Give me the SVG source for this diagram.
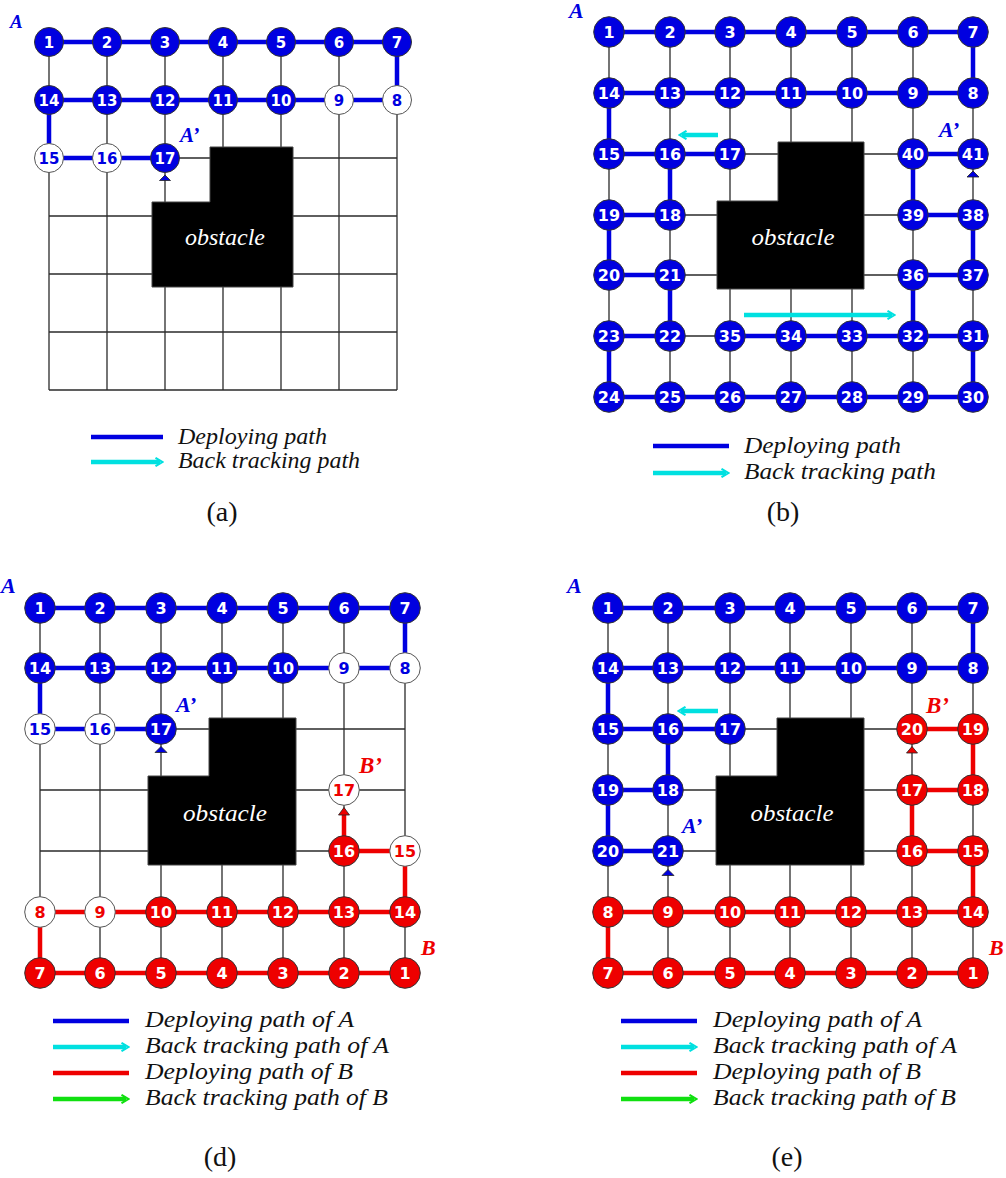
<svg xmlns="http://www.w3.org/2000/svg" width="1006" height="1178" viewBox="0 0 1006 1178">
<style>
.grid{fill:none;stroke:#2b2b2b;stroke-width:1.3}
.obs{fill:#000;stroke:#444;stroke-width:1}
.otx{fill:#fff;font-family:"Liberation Serif",serif;font-style:italic;font-size:24px;text-anchor:middle}
.pb{fill:none;stroke:#0000e0;stroke-width:4.5}
.pr{fill:none;stroke:#ee0000;stroke-width:4.5}
.pc{fill:none;stroke:#00e0e0;stroke-width:4.5}
.pg{fill:none;stroke:#10e010;stroke-width:4.5}
.tb{fill:#0000e0;stroke:#222;stroke-width:0.8}
.tr{fill:#ee0000;stroke:#222;stroke-width:0.8}
.n text{font-family:"DejaVu Sans",Verdana,sans-serif;font-weight:bold;font-size:16px;text-anchor:middle}
.pa .n text{font-size:15px}
.nb circle{fill:#0000e0;stroke:#333;stroke-width:1}
.nb text{fill:#fff}
.wb circle{fill:#fff;stroke:#555;stroke-width:1}
.wb text{fill:#0000e0}
.nr circle{fill:#ee0000;stroke:#333;stroke-width:1}
.nr text{fill:#fff}
.wr circle{fill:#fff;stroke:#555;stroke-width:1}
.wr text{fill:#ee0000}
.lbl{font-family:"Liberation Serif",serif;font-weight:bold;font-style:italic;font-size:22px}
.lb{fill:#0000e0}
.lr{fill:#ee0000}
.leg{font-family:"Liberation Serif",serif;font-style:italic;font-size:24px;fill:#111}
.cap{font-family:"Liberation Serif",serif;font-size:28px;fill:#111;text-anchor:middle}
</style>
<defs>
<marker id="hc" viewBox="0 0 10 10" refX="6" refY="5" markerWidth="10" markerHeight="10" markerUnits="userSpaceOnUse" orient="auto"><path d="M1.5,0.8 L8.5,5 L1.5,9.2" fill="none" stroke="#00e0e0" stroke-width="2"/></marker>
<marker id="hg" viewBox="0 0 10 10" refX="6" refY="5" markerWidth="10" markerHeight="10" markerUnits="userSpaceOnUse" orient="auto"><path d="M1.5,0.8 L8.5,5 L1.5,9.2" fill="none" stroke="#10e010" stroke-width="2"/></marker>
</defs>
<rect width="1006" height="1178" fill="#fff"/>

<!-- ============ Panel (a) ============ -->
<g id="panel-a" class="pa">
<g id="a-connectors">
<path class="grid" d="M49,42V390M107,42V390M165,42V390M223,42V390M281,42V390M339,42V390M397,42V390M49,42H397M49,100H397M49,158H397M49,216H397M49,274H397M49,332H397M49,390H397"/>
<path id="a-obstacle" class="obs" d="M210,147H293V287H152V202H210Z"/>
<text class="otx" x="225" y="245" textLength="80" lengthAdjust="spacingAndGlyphs">obstacle</text>
<path class="pb" d="M49,42H397V100H49V158H165"/>
<polygon class="tb" points="165,175 159.5,180.5 170.5,180.5"/>
</g>
<g id="a-nodes">
<g id="a-n1" class="n nb"><circle cx="49" cy="42" r="14.5"/><text x="49" y="47.5">1</text></g>
<g id="a-n2" class="n nb"><circle cx="107" cy="42" r="14.5"/><text x="107" y="47.5">2</text></g>
<g id="a-n3" class="n nb"><circle cx="165" cy="42" r="14.5"/><text x="165" y="47.5">3</text></g>
<g id="a-n4" class="n nb"><circle cx="223" cy="42" r="14.5"/><text x="223" y="47.5">4</text></g>
<g id="a-n5" class="n nb"><circle cx="281" cy="42" r="14.5"/><text x="281" y="47.5">5</text></g>
<g id="a-n6" class="n nb"><circle cx="339" cy="42" r="14.5"/><text x="339" y="47.5">6</text></g>
<g id="a-n7" class="n nb"><circle cx="397" cy="42" r="14.5"/><text x="397" y="47.5">7</text></g>
<g id="a-n14" class="n nb"><circle cx="49" cy="100" r="14.5"/><text x="49" y="105.5">14</text></g>
<g id="a-n13" class="n nb"><circle cx="107" cy="100" r="14.5"/><text x="107" y="105.5">13</text></g>
<g id="a-n12" class="n nb"><circle cx="165" cy="100" r="14.5"/><text x="165" y="105.5">12</text></g>
<g id="a-n11" class="n nb"><circle cx="223" cy="100" r="14.5"/><text x="223" y="105.5">11</text></g>
<g id="a-n10" class="n nb"><circle cx="281" cy="100" r="14.5"/><text x="281" y="105.5">10</text></g>
<g id="a-n9" class="n wb"><circle cx="339" cy="100" r="14.5"/><text x="339" y="105.5">9</text></g>
<g id="a-n8" class="n wb"><circle cx="397" cy="100" r="14.5"/><text x="397" y="105.5">8</text></g>
<g id="a-n15" class="n wb"><circle cx="49" cy="158" r="14.5"/><text x="49" y="163.5">15</text></g>
<g id="a-n16" class="n wb"><circle cx="107" cy="158" r="14.5"/><text x="107" y="163.5">16</text></g>
<g id="a-n17" class="n nb"><circle cx="165" cy="158" r="14.5"/><text x="165" y="163.5">17</text></g>
</g>
<text class="lbl lb" x="10" y="28" style="font-size:19px">A</text>
<text class="lbl lb" x="180" y="142" style="font-size:21px">A’</text>
<g id="a-legend">
<line class="pb" x1="91" y1="437" x2="163" y2="437"/>
<line class="pc" x1="91" y1="462" x2="160" y2="462" marker-end="url(#hc)"/>
<text class="leg" x="178" y="444" textLength="149" lengthAdjust="spacingAndGlyphs">Deploying path</text>
<text class="leg" x="178" y="468" textLength="182" lengthAdjust="spacingAndGlyphs">Back tracking path</text>
</g>
<text class="cap" x="222" y="521">(a)</text>
</g>

<!-- ============ Panel (b) ============ -->
<g id="panel-b">
<g id="b-connectors">
<path class="grid" d="M609,32V397M670,32V397M730,32V397M791,32V397M852,32V397M913,32V397M973,32V397M609,32H973M609,93H973M609,154H973M609,215H973M609,275H973M609,336H973M609,397H973"/>
<path id="b-obstacle" class="obs" d="M778,142H864V289H717V201H778Z"/>
<text class="otx" x="793" y="245" textLength="83" lengthAdjust="spacingAndGlyphs">obstacle</text>
<path class="pb" d="M609,32H973V93H609V154H730M670,154V215H609V275H670V336H609V397H973V336H730M913,336V275H973V215H913V154H973"/>
<polygon class="tb" points="973,171 967,177 979,177"/>
<line class="pc" x1="718" y1="135" x2="682" y2="135" marker-end="url(#hc)"/>
<line class="pc" x1="744" y1="315" x2="892" y2="315" marker-end="url(#hc)"/>
</g>
<g id="b-nodes">
<g id="b-n1" class="n nb"><circle cx="609" cy="32" r="15.3"/><text x="609" y="37.8">1</text></g>
<g id="b-n2" class="n nb"><circle cx="670" cy="32" r="15.3"/><text x="670" y="37.8">2</text></g>
<g id="b-n3" class="n nb"><circle cx="730" cy="32" r="15.3"/><text x="730" y="37.8">3</text></g>
<g id="b-n4" class="n nb"><circle cx="791" cy="32" r="15.3"/><text x="791" y="37.8">4</text></g>
<g id="b-n5" class="n nb"><circle cx="852" cy="32" r="15.3"/><text x="852" y="37.8">5</text></g>
<g id="b-n6" class="n nb"><circle cx="913" cy="32" r="15.3"/><text x="913" y="37.8">6</text></g>
<g id="b-n7" class="n nb"><circle cx="973" cy="32" r="15.3"/><text x="973" y="37.8">7</text></g>
<g id="b-n14" class="n nb"><circle cx="609" cy="93" r="15.3"/><text x="609" y="98.8">14</text></g>
<g id="b-n13" class="n nb"><circle cx="670" cy="93" r="15.3"/><text x="670" y="98.8">13</text></g>
<g id="b-n12" class="n nb"><circle cx="730" cy="93" r="15.3"/><text x="730" y="98.8">12</text></g>
<g id="b-n11" class="n nb"><circle cx="791" cy="93" r="15.3"/><text x="791" y="98.8">11</text></g>
<g id="b-n10" class="n nb"><circle cx="852" cy="93" r="15.3"/><text x="852" y="98.8">10</text></g>
<g id="b-n9" class="n nb"><circle cx="913" cy="93" r="15.3"/><text x="913" y="98.8">9</text></g>
<g id="b-n8" class="n nb"><circle cx="973" cy="93" r="15.3"/><text x="973" y="98.8">8</text></g>
<g id="b-n15" class="n nb"><circle cx="609" cy="154" r="15.3"/><text x="609" y="159.8">15</text></g>
<g id="b-n16" class="n nb"><circle cx="670" cy="154" r="15.3"/><text x="670" y="159.8">16</text></g>
<g id="b-n17" class="n nb"><circle cx="730" cy="154" r="15.3"/><text x="730" y="159.8">17</text></g>
<g id="b-n40" class="n nb"><circle cx="913" cy="154" r="15.3"/><text x="913" y="159.8">40</text></g>
<g id="b-n41" class="n nb"><circle cx="973" cy="154" r="15.3"/><text x="973" y="159.8">41</text></g>
<g id="b-n19" class="n nb"><circle cx="609" cy="215" r="15.3"/><text x="609" y="220.8">19</text></g>
<g id="b-n18" class="n nb"><circle cx="670" cy="215" r="15.3"/><text x="670" y="220.8">18</text></g>
<g id="b-n39" class="n nb"><circle cx="913" cy="215" r="15.3"/><text x="913" y="220.8">39</text></g>
<g id="b-n38" class="n nb"><circle cx="973" cy="215" r="15.3"/><text x="973" y="220.8">38</text></g>
<g id="b-n20" class="n nb"><circle cx="609" cy="275" r="15.3"/><text x="609" y="280.8">20</text></g>
<g id="b-n21" class="n nb"><circle cx="670" cy="275" r="15.3"/><text x="670" y="280.8">21</text></g>
<g id="b-n36" class="n nb"><circle cx="913" cy="275" r="15.3"/><text x="913" y="280.8">36</text></g>
<g id="b-n37" class="n nb"><circle cx="973" cy="275" r="15.3"/><text x="973" y="280.8">37</text></g>
<g id="b-n23" class="n nb"><circle cx="609" cy="336" r="15.3"/><text x="609" y="341.8">23</text></g>
<g id="b-n22" class="n nb"><circle cx="670" cy="336" r="15.3"/><text x="670" y="341.8">22</text></g>
<g id="b-n35" class="n nb"><circle cx="730" cy="336" r="15.3"/><text x="730" y="341.8">35</text></g>
<g id="b-n34" class="n nb"><circle cx="791" cy="336" r="15.3"/><text x="791" y="341.8">34</text></g>
<g id="b-n33" class="n nb"><circle cx="852" cy="336" r="15.3"/><text x="852" y="341.8">33</text></g>
<g id="b-n32" class="n nb"><circle cx="913" cy="336" r="15.3"/><text x="913" y="341.8">32</text></g>
<g id="b-n31" class="n nb"><circle cx="973" cy="336" r="15.3"/><text x="973" y="341.8">31</text></g>
<g id="b-n24" class="n nb"><circle cx="609" cy="397" r="15.3"/><text x="609" y="402.8">24</text></g>
<g id="b-n25" class="n nb"><circle cx="670" cy="397" r="15.3"/><text x="670" y="402.8">25</text></g>
<g id="b-n26" class="n nb"><circle cx="730" cy="397" r="15.3"/><text x="730" y="402.8">26</text></g>
<g id="b-n27" class="n nb"><circle cx="791" cy="397" r="15.3"/><text x="791" y="402.8">27</text></g>
<g id="b-n28" class="n nb"><circle cx="852" cy="397" r="15.3"/><text x="852" y="402.8">28</text></g>
<g id="b-n29" class="n nb"><circle cx="913" cy="397" r="15.3"/><text x="913" y="402.8">29</text></g>
<g id="b-n30" class="n nb"><circle cx="973" cy="397" r="15.3"/><text x="973" y="402.8">30</text></g>
</g>
<text class="lbl lb" x="569" y="18">A</text>
<text class="lbl lb" x="939" y="137">A’</text>
<g id="b-legend">
<line class="pb" x1="653" y1="446" x2="729" y2="446"/>
<line class="pc" x1="653" y1="473" x2="726" y2="473" marker-end="url(#hc)"/>
<text class="leg" x="744" y="453" textLength="157" lengthAdjust="spacingAndGlyphs">Deploying path</text>
<text class="leg" x="744" y="479" textLength="192" lengthAdjust="spacingAndGlyphs">Back tracking path</text>
</g>
<text class="cap" x="783" y="521">(b)</text>
</g>

<!-- ============ Panel (d) ============ -->
<g id="panel-d">
<g id="d-connectors">
<path class="grid" d="M40,608V973M100,608V973M161,608V973M222,608V973M283,608V973M344,608V973M405,608V973M40,608H405M40,668H405M40,729H405M40,790H405M40,851H405M40,912H405M40,973H405"/>
<path id="d-obstacle" class="obs" d="M209,718H296V865H148V776H209Z"/>
<text class="otx" x="225" y="821" textLength="84" lengthAdjust="spacingAndGlyphs">obstacle</text>
<path class="pb" d="M40,608H405V668H40V729H161"/>
<path class="pr" d="M405,973H40V912H405V851H344V815"/>
<polygon class="tb" points="161,746.5 155,752.5 167,752.5"/>
<polygon class="tr" points="344,807.5 338.5,815 349.5,815"/>
</g>
<g id="d-nodes">
<g id="d-a1" class="n nb"><circle cx="40" cy="608" r="15.3"/><text x="40" y="613.8">1</text></g>
<g id="d-a2" class="n nb"><circle cx="100" cy="608" r="15.3"/><text x="100" y="613.8">2</text></g>
<g id="d-a3" class="n nb"><circle cx="161" cy="608" r="15.3"/><text x="161" y="613.8">3</text></g>
<g id="d-a4" class="n nb"><circle cx="222" cy="608" r="15.3"/><text x="222" y="613.8">4</text></g>
<g id="d-a5" class="n nb"><circle cx="283" cy="608" r="15.3"/><text x="283" y="613.8">5</text></g>
<g id="d-a6" class="n nb"><circle cx="344" cy="608" r="15.3"/><text x="344" y="613.8">6</text></g>
<g id="d-a7" class="n nb"><circle cx="405" cy="608" r="15.3"/><text x="405" y="613.8">7</text></g>
<g id="d-a14" class="n nb"><circle cx="40" cy="668" r="15.3"/><text x="40" y="673.8">14</text></g>
<g id="d-a13" class="n nb"><circle cx="100" cy="668" r="15.3"/><text x="100" y="673.8">13</text></g>
<g id="d-a12" class="n nb"><circle cx="161" cy="668" r="15.3"/><text x="161" y="673.8">12</text></g>
<g id="d-a11" class="n nb"><circle cx="222" cy="668" r="15.3"/><text x="222" y="673.8">11</text></g>
<g id="d-a10" class="n nb"><circle cx="283" cy="668" r="15.3"/><text x="283" y="673.8">10</text></g>
<g id="d-a9" class="n wb"><circle cx="344" cy="668" r="15.3"/><text x="344" y="673.8">9</text></g>
<g id="d-a8" class="n wb"><circle cx="405" cy="668" r="15.3"/><text x="405" y="673.8">8</text></g>
<g id="d-a15" class="n wb"><circle cx="40" cy="729" r="15.3"/><text x="40" y="734.8">15</text></g>
<g id="d-a16" class="n wb"><circle cx="100" cy="729" r="15.3"/><text x="100" y="734.8">16</text></g>
<g id="d-a17" class="n nb"><circle cx="161" cy="729" r="15.3"/><text x="161" y="734.8">17</text></g>
<g id="d-b17" class="n wr"><circle cx="344" cy="790" r="15.3"/><text x="344" y="795.8">17</text></g>
<g id="d-b16" class="n nr"><circle cx="344" cy="851" r="15.3"/><text x="344" y="856.8">16</text></g>
<g id="d-b15" class="n wr"><circle cx="405" cy="851" r="15.3"/><text x="405" y="856.8">15</text></g>
<g id="d-b8" class="n wr"><circle cx="40" cy="912" r="15.3"/><text x="40" y="917.8">8</text></g>
<g id="d-b9" class="n wr"><circle cx="100" cy="912" r="15.3"/><text x="100" y="917.8">9</text></g>
<g id="d-b10" class="n nr"><circle cx="161" cy="912" r="15.3"/><text x="161" y="917.8">10</text></g>
<g id="d-b11" class="n nr"><circle cx="222" cy="912" r="15.3"/><text x="222" y="917.8">11</text></g>
<g id="d-b12" class="n nr"><circle cx="283" cy="912" r="15.3"/><text x="283" y="917.8">12</text></g>
<g id="d-b13" class="n nr"><circle cx="344" cy="912" r="15.3"/><text x="344" y="917.8">13</text></g>
<g id="d-b14" class="n nr"><circle cx="405" cy="912" r="15.3"/><text x="405" y="917.8">14</text></g>
<g id="d-b7" class="n nr"><circle cx="40" cy="973" r="15.3"/><text x="40" y="978.8">7</text></g>
<g id="d-b6" class="n nr"><circle cx="100" cy="973" r="15.3"/><text x="100" y="978.8">6</text></g>
<g id="d-b5" class="n nr"><circle cx="161" cy="973" r="15.3"/><text x="161" y="978.8">5</text></g>
<g id="d-b4" class="n nr"><circle cx="222" cy="973" r="15.3"/><text x="222" y="978.8">4</text></g>
<g id="d-b3" class="n nr"><circle cx="283" cy="973" r="15.3"/><text x="283" y="978.8">3</text></g>
<g id="d-b2" class="n nr"><circle cx="344" cy="973" r="15.3"/><text x="344" y="978.8">2</text></g>
<g id="d-b1" class="n nr"><circle cx="405" cy="973" r="15.3"/><text x="405" y="978.8">1</text></g>
</g>
<text class="lbl lb" x="1" y="593">A</text>
<text class="lbl lb" x="176" y="712">A’</text>
<text class="lbl lr" x="359" y="773" style="font-size:23px">B’</text>
<text class="lbl lr" x="421" y="955">B</text>
<g id="d-legend">
<line class="pb" x1="53" y1="1021" x2="129" y2="1021"/>
<line class="pc" x1="53" y1="1047" x2="126" y2="1047" marker-end="url(#hc)"/>
<line class="pr" x1="53" y1="1073" x2="129" y2="1073"/>
<line class="pg" x1="53" y1="1099" x2="126" y2="1099" marker-end="url(#hg)"/>
<text class="leg" x="145" y="1027" textLength="209" lengthAdjust="spacingAndGlyphs">Deploying path of A</text>
<text class="leg" x="145" y="1053" textLength="244" lengthAdjust="spacingAndGlyphs">Back tracking path of A</text>
<text class="leg" x="145" y="1079" textLength="208" lengthAdjust="spacingAndGlyphs">Deploying path of B</text>
<text class="leg" x="145" y="1105" textLength="243" lengthAdjust="spacingAndGlyphs">Back tracking path of B</text>
</g>
<text class="cap" x="220" y="1166">(d)</text>
</g>

<!-- ============ Panel (e) ============ -->
<g id="panel-e">
<g id="e-connectors">
<path class="grid" d="M608,608V973M668,608V973M730,608V973M790,608V973M851,608V973M912,608V973M973,608V973M608,608H973M608,668H973M608,729H973M608,790H973M608,851H973M608,912H973M608,973H973"/>
<path id="e-obstacle" class="obs" d="M777,718H864V865H716V776H777Z"/>
<text class="otx" x="792" y="821" textLength="83" lengthAdjust="spacingAndGlyphs">obstacle</text>
<path class="pb" d="M608,608H973V668H608V729H730M668,729V790H608V851H668"/>
<path class="pr" d="M973,973H608V912H973V851H912V790H973V729H912"/>
<polygon class="tb" points="668,869.5 662,875.5 674,875.5"/>
<polygon class="tr" points="912,746.5 906.5,753 917.5,753"/>
<line class="pc" x1="718" y1="711" x2="681" y2="711" marker-end="url(#hc)"/>
</g>
<g id="e-nodes">
<g id="e-a1" class="n nb"><circle cx="608" cy="608" r="15.3"/><text x="608" y="613.8">1</text></g>
<g id="e-a2" class="n nb"><circle cx="668" cy="608" r="15.3"/><text x="668" y="613.8">2</text></g>
<g id="e-a3" class="n nb"><circle cx="730" cy="608" r="15.3"/><text x="730" y="613.8">3</text></g>
<g id="e-a4" class="n nb"><circle cx="790" cy="608" r="15.3"/><text x="790" y="613.8">4</text></g>
<g id="e-a5" class="n nb"><circle cx="851" cy="608" r="15.3"/><text x="851" y="613.8">5</text></g>
<g id="e-a6" class="n nb"><circle cx="912" cy="608" r="15.3"/><text x="912" y="613.8">6</text></g>
<g id="e-a7" class="n nb"><circle cx="973" cy="608" r="15.3"/><text x="973" y="613.8">7</text></g>
<g id="e-a14" class="n nb"><circle cx="608" cy="668" r="15.3"/><text x="608" y="673.8">14</text></g>
<g id="e-a13" class="n nb"><circle cx="668" cy="668" r="15.3"/><text x="668" y="673.8">13</text></g>
<g id="e-a12" class="n nb"><circle cx="730" cy="668" r="15.3"/><text x="730" y="673.8">12</text></g>
<g id="e-a11" class="n nb"><circle cx="790" cy="668" r="15.3"/><text x="790" y="673.8">11</text></g>
<g id="e-a10" class="n nb"><circle cx="851" cy="668" r="15.3"/><text x="851" y="673.8">10</text></g>
<g id="e-a9" class="n nb"><circle cx="912" cy="668" r="15.3"/><text x="912" y="673.8">9</text></g>
<g id="e-a8" class="n nb"><circle cx="973" cy="668" r="15.3"/><text x="973" y="673.8">8</text></g>
<g id="e-a15" class="n nb"><circle cx="608" cy="729" r="15.3"/><text x="608" y="734.8">15</text></g>
<g id="e-a16" class="n nb"><circle cx="668" cy="729" r="15.3"/><text x="668" y="734.8">16</text></g>
<g id="e-a17" class="n nb"><circle cx="730" cy="729" r="15.3"/><text x="730" y="734.8">17</text></g>
<g id="e-a19" class="n nb"><circle cx="608" cy="790" r="15.3"/><text x="608" y="795.8">19</text></g>
<g id="e-a18" class="n nb"><circle cx="668" cy="790" r="15.3"/><text x="668" y="795.8">18</text></g>
<g id="e-a20" class="n nb"><circle cx="608" cy="851" r="15.3"/><text x="608" y="856.8">20</text></g>
<g id="e-a21" class="n nb"><circle cx="668" cy="851" r="15.3"/><text x="668" y="856.8">21</text></g>
<g id="e-b20" class="n nr"><circle cx="912" cy="729" r="15.3"/><text x="912" y="734.8">20</text></g>
<g id="e-b19" class="n nr"><circle cx="973" cy="729" r="15.3"/><text x="973" y="734.8">19</text></g>
<g id="e-b17" class="n nr"><circle cx="912" cy="790" r="15.3"/><text x="912" y="795.8">17</text></g>
<g id="e-b18" class="n nr"><circle cx="973" cy="790" r="15.3"/><text x="973" y="795.8">18</text></g>
<g id="e-b16" class="n nr"><circle cx="912" cy="851" r="15.3"/><text x="912" y="856.8">16</text></g>
<g id="e-b15" class="n nr"><circle cx="973" cy="851" r="15.3"/><text x="973" y="856.8">15</text></g>
<g id="e-b8" class="n nr"><circle cx="608" cy="912" r="15.3"/><text x="608" y="917.8">8</text></g>
<g id="e-b9" class="n nr"><circle cx="668" cy="912" r="15.3"/><text x="668" y="917.8">9</text></g>
<g id="e-b10" class="n nr"><circle cx="730" cy="912" r="15.3"/><text x="730" y="917.8">10</text></g>
<g id="e-b11" class="n nr"><circle cx="790" cy="912" r="15.3"/><text x="790" y="917.8">11</text></g>
<g id="e-b12" class="n nr"><circle cx="851" cy="912" r="15.3"/><text x="851" y="917.8">12</text></g>
<g id="e-b13" class="n nr"><circle cx="912" cy="912" r="15.3"/><text x="912" y="917.8">13</text></g>
<g id="e-b14" class="n nr"><circle cx="973" cy="912" r="15.3"/><text x="973" y="917.8">14</text></g>
<g id="e-b7" class="n nr"><circle cx="608" cy="973" r="15.3"/><text x="608" y="978.8">7</text></g>
<g id="e-b6" class="n nr"><circle cx="668" cy="973" r="15.3"/><text x="668" y="978.8">6</text></g>
<g id="e-b5" class="n nr"><circle cx="730" cy="973" r="15.3"/><text x="730" y="978.8">5</text></g>
<g id="e-b4" class="n nr"><circle cx="790" cy="973" r="15.3"/><text x="790" y="978.8">4</text></g>
<g id="e-b3" class="n nr"><circle cx="851" cy="973" r="15.3"/><text x="851" y="978.8">3</text></g>
<g id="e-b2" class="n nr"><circle cx="912" cy="973" r="15.3"/><text x="912" y="978.8">2</text></g>
<g id="e-b1" class="n nr"><circle cx="973" cy="973" r="15.3"/><text x="973" y="978.8">1</text></g>
</g>
<text class="lbl lb" x="567" y="593">A</text>
<text class="lbl lb" x="682" y="833">A’</text>
<text class="lbl lr" x="926" y="713" style="font-size:23px">B’</text>
<text class="lbl lr" x="989" y="955">B</text>
<g id="e-legend">
<line class="pb" x1="621" y1="1021" x2="697" y2="1021"/>
<line class="pc" x1="621" y1="1047" x2="694" y2="1047" marker-end="url(#hc)"/>
<line class="pr" x1="621" y1="1073" x2="697" y2="1073"/>
<line class="pg" x1="621" y1="1099" x2="694" y2="1099" marker-end="url(#hg)"/>
<text class="leg" x="713" y="1027" textLength="209" lengthAdjust="spacingAndGlyphs">Deploying path of A</text>
<text class="leg" x="713" y="1053" textLength="244" lengthAdjust="spacingAndGlyphs">Back tracking path of A</text>
<text class="leg" x="713" y="1079" textLength="208" lengthAdjust="spacingAndGlyphs">Deploying path of B</text>
<text class="leg" x="713" y="1105" textLength="243" lengthAdjust="spacingAndGlyphs">Back tracking path of B</text>
</g>
<text class="cap" x="787" y="1166">(e)</text>
</g>
</svg>
